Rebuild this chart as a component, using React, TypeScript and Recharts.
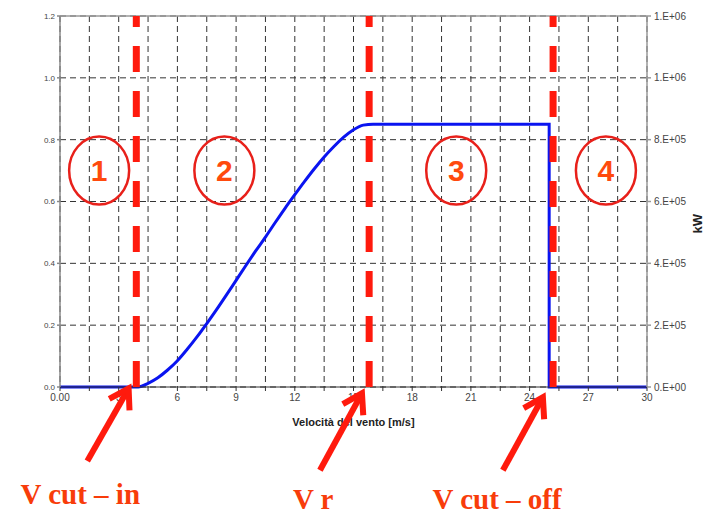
import { LineChart, Line, XAxis, YAxis, CartesianGrid, ReferenceLine, ReferenceDot } from "recharts"

// wind speed [m/s] and power (MW on the left axis)
const windSpeed = [0, 4, 4.5, 5, 5.5, 6, 6.5, 7, 7.5, 8, 8.5, 9, 9.5, 10, 10.5, 11, 11.5, 12, 12.5, 13, 13.5, 14, 14.5, 15, 15.5, 16, 25, 25, 30]
const powerMW = [0, 0, 0.012, 0.03, 0.055, 0.085, 0.122, 0.162, 0.205, 0.25, 0.297, 0.345, 0.393, 0.44, 0.485, 0.532, 0.578, 0.622, 0.665, 0.706, 0.744, 0.778, 0.808, 0.832, 0.847, 0.85, 0.85, 0, 0]

const speedTicks = [0, 1.5, 3, 4.5, 6, 7.5, 9, 10.5, 12, 13.5, 15, 16.5, 18, 19.5, 21, 22.5, 24, 25.5, 27, 28.5, 30]
const speedTickLabels = ["0.00", "", "3", "", "6", "", "9", "", "12", "", "15", "", "18", "", "21", "", "24", "", "27", "", "30"]
const leftTicks = [0, 0.2, 0.4, 0.6, 0.8, 1.0, 1.2]
const rightTicks = [0, 200000, 400000, 600000, 800000, 1000000, 1200000]

// region markers
const regionNames = ["1", "2", "3", "4"]
const regionSpeeds = [2, 8.4, 20.25, 27.9]
const regionLevel = 0.7

// characteristic speeds: cut-in, rated, cut-off
const markerSpeeds = [3.9, 15.8, 25.2]
const markerNames = ["V cut \u2013 in", "V r", "V cut \u2013 off"]

const data = windSpeed.map((v, i) => ({ speed: v, power: powerMW[i], powerRight: powerMW[i] * 1000000 }))

const RED = "#ff1a0d"
const TEXT_RED = "#f83c0a"

// arrow + caption offsets relative to the marker line foot
const arrowLayout = [
  { tip: [-7.7, 1.5], tail: [-49, 74], textDx: -56, textDy: 117 },
  { tip: [-7.2, 6.3], tail: [-49.2, 83.3], textDx: -56, textDy: 121.5 },
  { tip: [-10.2, 10.3], tail: [-50.2, 83.3], textDx: -56, textDy: 121.5 },
]

function sciLabel(v: number) {
  if (v === 0) return "0.E+00"
  const e = Math.floor(Math.log10(v))
  const m = Math.round(v / Math.pow(10, e))
  return `${m}.E+${String(e).padStart(2, "0")}`
}

function MarkerAnnotation({ viewBox, idx }: any) {
  if (!viewBox) return null
  const lx = viewBox.x
  const by = viewBox.y + viewBox.height
  const lay = arrowLayout[idx]
  const tx = lx + lay.tip[0]
  const ty = by + lay.tip[1]
  const sx = lx + lay.tail[0]
  const sy = by + lay.tail[1]
  const len = Math.hypot(tx - sx, ty - sy)
  const ux = (tx - sx) / len
  const uy = (ty - sy) / len
  const head = 22
  const ang = (32 * Math.PI) / 180
  const rot = (a: number) => [
    tx - head * (ux * Math.cos(a) - uy * Math.sin(a)),
    ty - head * (ux * Math.sin(a) + uy * Math.cos(a)),
  ]
  const [ax, ay] = rot(ang)
  const [bx, by2] = rot(-ang)
  return (
    <g>
      <line x1={sx} y1={sy} x2={tx - ux * 2} y2={ty - uy * 2} stroke={RED} strokeWidth={6} />
      <polyline
        points={`${ax},${ay} ${tx},${ty} ${bx},${by2}`}
        fill="none"
        stroke={RED}
        strokeWidth={6}
        strokeLinejoin="miter"
      />
      <text
        x={lx + lay.textDx}
        y={by + lay.textDy}
        textAnchor="middle"
        fontFamily="'Liberation Serif', 'Times New Roman', serif"
        fontWeight="bold"
        fontSize={29}
        fill={TEXT_RED}
      >
        {markerNames[idx]}
      </text>
    </g>
  )
}

function RegionBadge({ cx, cy, name }: any) {
  if (cx == null || cy == null) return null
  return (
    <g>
      <ellipse cx={cx} cy={cy} rx={30} ry={34} fill="none" stroke="#e8201a" strokeWidth={2.5} />
      <text
        x={cx}
        y={cy}
        dy="0.36em"
        textAnchor="middle"
        fontFamily="'Liberation Sans', Arial, sans-serif"
        fontWeight="bold"
        fontSize={30}
        fill="#ff4a0d"
      >
        {name}
      </text>
    </g>
  )
}

export default function App() {
  return (
    <div style={{ position: "absolute", left: 0, top: 0, width: 709, height: 515, background: "#fff" }}>
      <LineChart
        width={709}
        height={515}
        data={data}
        margin={{ top: 16, right: 0, bottom: 88, left: 0 }}
        style={{ fontFamily: "'Liberation Sans', Arial, sans-serif" }}
      >
        <CartesianGrid yAxisId="left" stroke="#333" strokeDasharray="6 4" strokeWidth={1} />
        <XAxis
          dataKey="speed"
          type="number"
          domain={[0, 30]}
          ticks={speedTicks}
          interval={0}
          tickFormatter={(v: number) => speedTickLabels[speedTicks.indexOf(v)] ?? ""}
          tick={{ fontSize: 10, fill: "#444" }}
          tickSize={4}
          tickMargin={3}
          stroke="#333"
          height={40}
          label={{
            value: "Velocità del vento [m/s]",
            position: "insideBottom",
            offset: 1,
            fontSize: 11,
            fontWeight: "bold",
            fill: "#222",
          }}
        />
        <YAxis
          yAxisId="left"
          domain={[0, 1.2]}
          ticks={leftTicks}
          interval={0}
          tickFormatter={(v: number) => v.toFixed(1)}
          tick={{ fontSize: 8, fill: "#444" }}
          tickSize={3}
          tickMargin={2}
          stroke="#888"
          strokeWidth={1.5}
          width={60}
        />
        <YAxis
          yAxisId="right"
          orientation="right"
          domain={[0, 1200000]}
          ticks={rightTicks}
          interval={0}
          includeHidden
          tickFormatter={sciLabel}
          tick={{ fontSize: 10, fill: "#444" }}
          tickSize={4}
          tickMargin={3}
          stroke="#999"
          strokeWidth={1.5}
          width={62}
          label={(props: any) => {
            const vb = props.viewBox
            if (!vb) return null
            const x = vb.x + 55
            const y = vb.y + vb.height * 0.56
            return (
              <text
                x={x}
                y={y}
                transform={`rotate(-90 ${x} ${y})`}
                textAnchor="middle"
                fontSize={13}
                fontWeight="bold"
                fill="#222"
              >
                kW
              </text>
            )
          }}
        />
        <ReferenceLine yAxisId="left" y={1.2} stroke="#999" strokeWidth={1.5} />
        <Line
          yAxisId="right"
          dataKey="powerRight"
          hide
          dot={false}
          activeDot={false}
          isAnimationActive={false}
        />
        <Line
          yAxisId="left"
          type="monotone"
          dataKey="power"
          stroke="#0a14f0"
          strokeWidth={3}
          dot={false}
          isAnimationActive={false}
        />
        {markerSpeeds.map((s, i) => (
          <ReferenceLine
            key={`m-${i}`}
            yAxisId="left"
            x={s}
            stroke={RED}
            strokeWidth={7}
            strokeDasharray="26 19"
            zIndex={2000}
            label={(p: any) => <MarkerAnnotation viewBox={p.viewBox} idx={i} />}
          />
        ))}
        {regionNames.map((n, i) => (
          <ReferenceDot
            key={`r-${i}`}
            yAxisId="left"
            x={regionSpeeds[i]}
            y={regionLevel}
            r={30}
            shape={(p: any) => <RegionBadge cx={p.cx} cy={p.cy} name={n} />}
          />
        ))}
      </LineChart>
    </div>
  )
}
